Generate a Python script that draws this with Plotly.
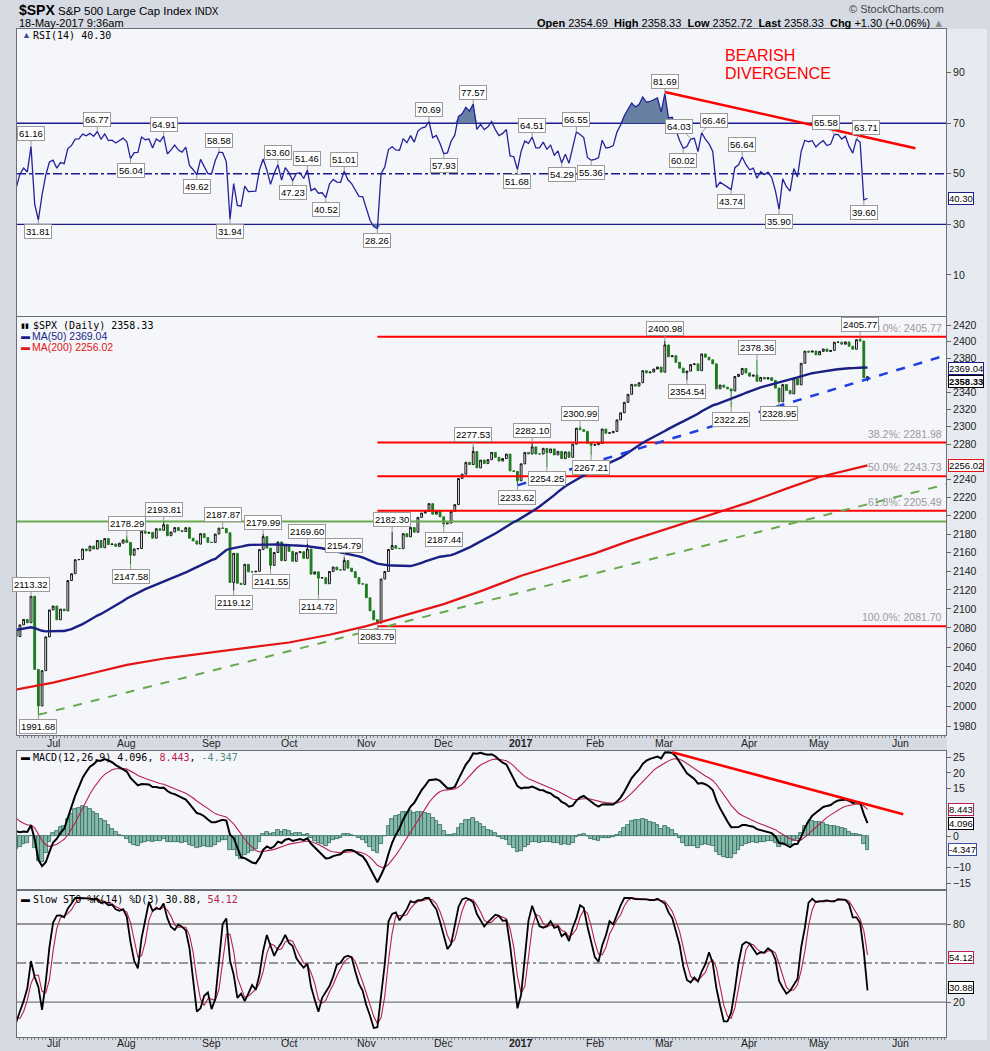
import numpy as np
import pandas as pd
import plotly.graph_objects as go

W, H = 990, 1051

# ---------------- data ----------------
HOLIDAYS = ["2016-05-30", "2016-07-04", "2016-09-05", "2016-11-24", "2016-12-26",
            "2017-01-02", "2017-01-16", "2017-02-20", "2017-04-14"]

# daily closes (Apr-Jun 2016 are warm-up history for the indicators)
close_2016_04 = [2072.78, 2066.13, 2045.17, 2066.66, 2041.91, 2047.60, 2041.99, 2061.72, 2082.42, 2082.78,
                 2080.73, 2094.34, 2100.80, 2102.40, 2091.48, 2091.58, 2087.79, 2091.70, 2095.15, 2075.81, 2065.30]
close_2016_05 = [2081.43, 2063.37, 2051.12, 2050.63, 2057.14, 2058.69, 2084.39, 2064.46, 2064.11, 2046.61,
                 2066.66, 2047.21, 2047.63, 2040.04, 2052.32, 2048.04, 2076.06, 2090.54, 2090.10, 2099.06, 2096.95]
close_2016_06 = [2099.33, 2105.26, 2099.13, 2109.41, 2112.13, 2119.12, 2115.48, 2096.07, 2079.06, 2075.32,
                 2071.50, 2077.99, 2071.22, 2083.25, 2088.90, 2085.45, 2113.32, 2037.41, 2000.54, 2036.09,
                 2070.77, 2098.86]
close_2016_07 = [2102.95, 2088.55, 2099.73, 2097.90, 2129.90, 2137.16, 2152.14, 2152.43, 2163.75, 2161.74,
                 2166.89, 2163.78, 2173.02, 2165.17, 2175.03, 2168.48, 2169.18, 2166.58, 2170.06, 2173.60]
close_2016_08 = [2170.84, 2157.03, 2163.79, 2164.25, 2182.87, 2180.89, 2181.74, 2175.49, 2185.79, 2184.05,
                 2190.15, 2178.15, 2182.22, 2187.02, 2183.87, 2182.64, 2186.90, 2175.44, 2172.47, 2169.04,
                 2180.38, 2176.12, 2170.95]
close_2016_09 = [2170.86, 2179.98, 2186.48, 2186.16, 2181.30, 2127.81, 2159.04, 2127.02, 2125.77, 2147.26,
                 2139.16, 2139.12, 2139.76, 2163.12, 2177.18, 2164.69, 2146.10, 2159.93, 2171.37, 2151.13, 2168.27]
close_2016_10 = [2161.20, 2150.49, 2159.73, 2160.77, 2153.74, 2163.66, 2136.73, 2139.18, 2132.55, 2132.98,
                 2126.50, 2139.60, 2144.29, 2141.34, 2141.16, 2151.33, 2143.16, 2139.43, 2133.04, 2126.41, 2126.15]
close_2016_11 = [2111.72, 2097.94, 2088.66, 2085.18, 2131.52, 2139.56, 2163.26, 2167.48, 2164.45, 2164.20,
                 2180.39, 2176.94, 2187.12, 2181.90, 2198.18, 2202.94, 2204.72, 2213.35, 2201.72, 2204.66, 2198.81]
close_2016_12 = [2191.08, 2191.95, 2204.71, 2212.23, 2241.35, 2246.19, 2259.53, 2256.96, 2271.72, 2253.28,
                 2262.03, 2258.07, 2262.53, 2270.76, 2265.18, 2260.96, 2263.79, 2268.88, 2249.92, 2249.26, 2238.83]
close_2017_01 = [2257.83, 2270.75, 2269.00, 2276.98, 2268.90, 2268.90, 2275.32, 2270.44, 2274.64, 2267.89,
                 2271.89, 2263.69, 2271.31, 2265.20, 2280.07, 2298.37, 2296.68, 2294.69, 2280.90, 2278.87]
close_2017_02 = [2279.55, 2280.85, 2297.42, 2292.56, 2293.08, 2294.67, 2307.87, 2316.10, 2328.25, 2337.58,
                 2349.25, 2347.22, 2351.16, 2365.38, 2362.82, 2363.81, 2367.34, 2369.75, 2363.64]
close_2017_03 = [2395.96, 2381.92, 2383.12, 2375.31, 2368.39, 2362.98, 2364.87, 2372.60, 2373.47, 2365.45,
                 2385.26, 2381.38, 2378.25, 2373.47, 2344.02, 2348.45, 2345.96, 2343.98, 2341.59, 2358.57,
                 2361.13, 2368.06, 2362.72]
close_2017_04 = [2358.84, 2360.16, 2352.95, 2357.49, 2355.54, 2357.16, 2353.78, 2344.93, 2328.95, 2349.01,
                 2342.19, 2338.17, 2355.84, 2348.69, 2374.15, 2388.61, 2387.45, 2388.77, 2384.20]
close_2017_05 = [2388.33, 2391.17, 2388.13, 2389.52, 2399.29, 2399.38, 2396.92, 2399.63, 2394.44, 2390.90,
                 2402.32, 2400.67, 2357.03, 2358.33]

last_bar = {"open": 2354.69, "high": 2358.33, "low": 2352.72}

# 200-day MA (trading-day index, value)
ma200_idx = [-1, 9, 19, 29, 40, 52, 62, 73, 84, 94, 105, 115, 126, 136, 146, 156, 165, 175, 186, 198, 208, 217, 230]
ma200_val = [2017, 2024, 2033, 2042, 2049, 2055, 2060, 2065, 2073, 2082, 2094, 2105, 2120, 2135, 2147, 2159,
             2172, 2185, 2200, 2215, 2230, 2243, 2256.02]

# price swing labels
price_up_idx = [3, 29, 39, 55, 66, 78, 88, 101, 123, 139, 152, 175, 200, 228]
price_up_val = [2113.32, 2178.29, 2193.81, 2187.87, 2179.99, 2169.60, 2154.79, 2182.30, 2277.53, 2282.10,
                2300.99, 2400.98, 2378.36, 2405.77]
price_dn_idx = [5, 30, 58, 68, 81, 97, 115, 135, 143, 155, 181, 193, 206]
price_dn_val = [1991.68, 2147.58, 2119.12, 2141.55, 2114.72, 2083.79, 2187.44, 2233.62, 2254.25, 2267.21,
                2354.54, 2322.25, 2328.95]

# RSI swing labels
rsi_up_idx = [3, 21, 39, 54, 70, 78, 88, 111, 123, 139, 151, 175, 182, 185, 196, 221, 227]
rsi_up_val = [61.16, 66.77, 64.91, 58.58, 53.60, 51.46, 51.01, 70.69, 77.57, 64.51, 66.55, 81.69, 64.03,
              66.46, 56.64, 65.58, 63.71]
rsi_dn_idx = [5, 30, 48, 57, 74, 83, 97, 115, 135, 147, 155, 180, 193, 206, 229]
rsi_dn_val = [31.81, 56.04, 49.62, 31.94, 47.23, 40.52, 28.26, 57.93, 51.68, 54.29, 55.36, 60.02, 43.74,
              35.90, 39.60]

# Fibonacci retracement levels
fib_names = ["0.0%", "38.2%", "50.0%", "61.8%", "100.0%"]
fib_levels = [2405.77, 2281.98, 2243.73, 2205.49, 2081.70]
fib_start_idx = 97
support_level = 2193.81

# drawn trendlines (index, value)
green_trend_idx = [5, 251.5]
green_trend_val = [1991.68, 2235.0]
blue_trend_idx = [135, 251.5]
blue_trend_val = [2233.62, 2384.0]
rsi_trend_idx = [175, 243]
rsi_trend_val = [82.4, 60.1]
macd_trend_idx = [177, 239.7]
macd_trend_val = [26.5, 6.9]

month_tick_idx = [9, 29, 52, 73, 94, 115, 136, 156, 175, 198, 217, 239]
month_tick_text = ["Jul", "Aug", "Sep", "Oct", "Nov", "Dec", "<b>2017</b>", "Feb", "Mar", "Apr", "May", "Jun"]

# axis tick labels (those hidden behind the value tags are left out)
rsi_ticks = [10, 30, 50, 70, 90]
price_ticks = [v for v in range(1980, 2421, 20) if v not in (2360, 2260)]
macd_ticks = [-15, -10, 0, 15, 20, 25]
sto_ticks = [20, 80]

# legend / header values
rsi_last = 40.30
ma50_last, ma200_last, price_last = 2369.04, 2256.02, 2358.33
macd_last, signal_last, hist_last = 4.096, 8.443, -4.347
stok_last, stod_last = 30.88, 54.12

# ---------------- derived series ----------------
closes = np.array(close_2016_04 + close_2016_05 + close_2016_06 + close_2016_07 + close_2016_08 +
                  close_2016_09 + close_2016_10 + close_2016_11 + close_2016_12 + close_2017_01 +
                  close_2017_02 + close_2017_03 + close_2017_04 + close_2017_05)
hol = set(pd.to_datetime(HOLIDAYS))
dates = [d for d in pd.bdate_range("2016-04-01", "2017-05-18") if d not in hol]
n = len(closes)
assert len(dates) == n, (len(dates), n)
off = dates.index(pd.Timestamp("2016-06-20"))
xi = np.arange(n) - off

opens = np.r_[closes[0], closes[:-1]].astype(float)
opens[-1] = last_bar["open"]
highs = np.maximum(opens, closes)
lows = np.minimum(opens, closes)
highs[-1] = last_bar["high"]
lows[-1] = last_bar["low"]
for i, v in zip(price_up_idx, price_up_val):
    highs[i + off] = max(highs[i + off], v)
for i, v in zip(price_dn_idx, price_dn_val):
    lows[i + off] = min(lows[i + off], v)

cs = pd.Series(closes)
ma50 = cs.rolling(50).mean().values


def wilder_rsi(c, p=14):
    d = np.diff(c)
    g = np.where(d > 0, d, 0.0)
    l = np.where(d < 0, -d, 0.0)
    out = np.full(len(c), np.nan)
    ag, al = g[:p].mean(), l[:p].mean()
    out[p] = 100 - 100 / (1 + ag / al)
    for k in range(p, len(d)):
        ag = (ag * (p - 1) + g[k]) / p
        al = (al * (p - 1) + l[k]) / p
        out[k + 1] = 100 - 100 / (1 + ag / al)
    return out


def ema(x, p):
    x = np.asarray(x, float)
    out = np.full(len(x), np.nan)
    start = int(np.argmax(~np.isnan(x)))
    a = 2.0 / (p + 1)
    out[start + p - 1] = np.mean(x[start:start + p])
    for k in range(start + p, len(x)):
        out[k] = a * x[k] + (1 - a) * out[k - 1]
    return out


rsi = wilder_rsi(closes)
macd = ema(closes, 12) - ema(closes, 26)
signal = ema(macd, 9)
hist = macd - signal
ll = pd.Series(lows).rolling(14).min()
hh = pd.Series(highs).rolling(14).max()
fastk = 100 * (cs - ll) / (hh - ll)
slowk = fastk.rolling(3).mean().values
slowd = pd.Series(slowk).rolling(3).mean().values

vis = xi >= -2
xv = xi[vis]

# ---------------- geometry ----------------
def px(x):
    return x / W


def py(y):
    return 1 - y / H


XD = [px(17), px(946)]
XR = [-0.8, 251.3]
PLO, PHI = 1971.7, 2429.7

FONT = "Liberation Sans"
MONO = "DejaVu Sans Mono"
NAVY = "#1c1c8c"
CRIM = "#b8204e"
GREEN_C = "#1f7a1f"

fig = go.Figure()

# ---- RSI panel ----
fig.add_trace(go.Scatter(x=xv, y=np.full(len(xv), 70.0), mode="lines", line=dict(width=0),
                         xaxis="x", yaxis="y", hoverinfo="skip", showlegend=False))
fig.add_trace(go.Scatter(x=xv, y=np.maximum(rsi[vis], 70), mode="lines", line=dict(width=0),
                         fill="tonexty", fillcolor="rgba(96,122,158,0.95)",
                         xaxis="x", yaxis="y", hoverinfo="skip", showlegend=False))
fig.add_trace(go.Scatter(x=xv, y=np.full(len(xv), 30.0), mode="lines", line=dict(width=0),
                         xaxis="x", yaxis="y", hoverinfo="skip", showlegend=False))
fig.add_trace(go.Scatter(x=xv, y=np.minimum(rsi[vis], 30), mode="lines", line=dict(width=0),
                         fill="tonexty", fillcolor="rgba(96,122,158,0.95)",
                         xaxis="x", yaxis="y", hoverinfo="skip", showlegend=False))
fig.add_trace(go.Scatter(x=xv, y=rsi[vis], mode="lines", line=dict(color="#23239a", width=1.3),
                         xaxis="x", yaxis="y", showlegend=False))
fig.add_trace(go.Scatter(x=rsi_trend_idx, y=rsi_trend_val, mode="lines", line=dict(color="#ff0000", width=2.5),
                         xaxis="x", yaxis="y", showlegend=False))

# ---- price panel ----
for name, lvl in zip(fib_names, fib_levels):
    fig.add_trace(go.Scatter(x=[fib_start_idx, XR[1] + 1], y=[lvl, lvl], mode="lines",
                             line=dict(color="#ff0000", width=2), xaxis="x2", yaxis="y2", showlegend=False))
fig.add_trace(go.Scatter(x=[XR[0] - 1, XR[1] + 1], y=[support_level, support_level], mode="lines",
                         line=dict(color="#6aa84f", width=2), xaxis="x2", yaxis="y2", showlegend=False))
fig.add_trace(go.Scatter(x=green_trend_idx, y=green_trend_val, mode="lines",
                         line=dict(color="#6aa84f", width=2, dash="dash"), xaxis="x2", yaxis="y2", showlegend=False))
fig.add_trace(go.Scatter(x=ma200_idx, y=ma200_val, mode="lines", line=dict(color="#e31414", width=2.2),
                         xaxis="x2", yaxis="y2", showlegend=False))
fig.add_trace(go.Scatter(x=xv, y=ma50[vis], mode="lines", line=dict(color="#1a1f84", width=2.4),
                         xaxis="x2", yaxis="y2", showlegend=False))
fig.add_trace(go.Scatter(x=blue_trend_idx, y=blue_trend_val, mode="lines",
                         line=dict(color="#1f3fe0", width=2.5, dash="dash"), xaxis="x2", yaxis="y2", showlegend=False))
fig.add_trace(go.Candlestick(x=xv, open=opens[vis], high=highs[vis], low=lows[vis], close=closes[vis],
                             increasing=dict(line=dict(color="#111111", width=1), fillcolor="white"),
                             decreasing=dict(line=dict(color=GREEN_C, width=1), fillcolor=GREEN_C),
                             whiskerwidth=0, xaxis="x2", yaxis="y2", showlegend=False))

# ---- MACD panel ----
fig.add_trace(go.Bar(x=xv, y=hist[vis], width=1.0, marker=dict(color="#86b9aa", line=dict(color="#2f6b5c", width=0.8)),
                     xaxis="x3", yaxis="y3", showlegend=False))
fig.add_trace(go.Scatter(x=xv, y=signal[vis], mode="lines", line=dict(color=CRIM, width=1.1),
                         xaxis="x3", yaxis="y3", showlegend=False))
fig.add_trace(go.Scatter(x=xv, y=macd[vis], mode="lines", line=dict(color="black", width=2),
                         xaxis="x3", yaxis="y3", showlegend=False))
fig.add_trace(go.Scatter(x=macd_trend_idx, y=macd_trend_val, mode="lines", line=dict(color="#ff0000", width=2.5),
                         xaxis="x3", yaxis="y3", showlegend=False))

# ---- STO panel ----
fig.add_trace(go.Scatter(x=xv, y=slowd[vis], mode="lines", line=dict(color=CRIM, width=1.1),
                         xaxis="x4", yaxis="y4", showlegend=False))
fig.add_trace(go.Scatter(x=xv, y=slowk[vis], mode="lines", line=dict(color="black", width=1.8),
                         xaxis="x4", yaxis="y4", showlegend=False))

# ---------------- axes ----------------
common_x = dict(domain=XD, range=XR, showgrid=False, zeroline=False, showline=True, mirror=True,
                linecolor="#6b6f7a", linewidth=1, fixedrange=True)
tickfont = dict(family=FONT, size=10.5, color="#222")
xlab = dict(tickmode="array", tickvals=month_tick_idx, showticklabels=False, ticks="outside", ticklen=3,
            tickcolor="#666",
            minor=dict(ticks="outside", ticklen=2, dtick=1, tick0=0, tickcolor="#888"))
common_y = dict(side="right", showgrid=False, zeroline=False, showline=True, mirror=True, linecolor="#6b6f7a",
                linewidth=1, ticks="outside", ticklen=4, tickcolor="#666", tickfont=tickfont, fixedrange=True)

fig.update_layout(
    width=W, height=H, margin=dict(l=0, r=0, t=0, b=0),
    paper_bgcolor="#d6dae3", plot_bgcolor="#f5f6fa", showlegend=False, bargap=0,
    xaxis=dict(**common_x, anchor="y", showticklabels=False, ticks=""),
    xaxis2=dict(**common_x, anchor="y2", rangeslider=dict(visible=False), **xlab),
    xaxis3=dict(**common_x, anchor="y3", showticklabels=False, ticks=""),
    xaxis4=dict(**common_x, anchor="y4", **xlab),
    yaxis=dict(**common_y, anchor="x", domain=[py(316), py(29)], range=[-6.3, 107.3],
               tickvals=rsi_ticks),
    yaxis2=dict(**common_y, anchor="x2", domain=[py(735), py(317)], type="log",
                range=[np.log10(PLO), np.log10(PHI)],
                tickvals=price_ticks, ticktext=[str(v) for v in price_ticks]),
    yaxis3=dict(**common_y, anchor="x3", domain=[py(889), py(751)], range=[-16.7, 26.9],
                tickvals=macd_ticks),
    yaxis4=dict(**common_y, anchor="x4", domain=[py(1037), py(891)], range=[-6.9, 105.4],
                tickvals=sto_ticks),
)

shapes = []
# right axis column
shapes.append(dict(type="rect", xref="paper", yref="paper", x0=px(947), x1=px(987), y0=py(1040), y1=py(29),
                   fillcolor="#e7eaf0", line=dict(width=0), layer="below"))
for yref, lvl, col, dash in [("y", 70, NAVY, "solid"), ("y", 30, NAVY, "solid"), ("y", 50, NAVY, "dashdot"),
                             ("y4", 80, "#777", "solid"), ("y4", 20, "#777", "solid"), ("y4", 50, "#777", "dashdot")]:
    shapes.append(dict(type="line", xref="paper", x0=XD[0], x1=XD[1], yref=yref, y0=lvl, y1=lvl,
                       line=dict(color=col, width=1.3, dash=dash), layer="below"))
fig.update_layout(shapes=shapes)

# ---------------- annotations ----------------
ann = []


def ptxt(x, y, text, size=11, color="black", family=FONT, xanchor="left", yanchor="middle"):
    ann.append(dict(xref="paper", yref="paper", x=px(x), y=py(y), text=text, showarrow=False,
                    xanchor=xanchor, yanchor=yanchor, font=dict(family=family, size=size, color=color)))


# month labels under the price panel and the STO panel
for xref, ypx in [("x2", 743), ("x4", 1043)]:
    for i, t in zip(month_tick_idx, month_tick_text):
        ann.append(dict(xref=xref, yref="paper", x=i, y=py(ypx), text=t, showarrow=False,
                        xanchor="center", yanchor="middle", font=dict(family=FONT, size=10.5, color="#222")))

# header
ptxt(17, 10, "<b><span style='font-size:14px'>$SPX</span></b> S&P 500 Large Cap Index "
             "<span style='font-size:10px'>INDX</span>", size=11.5)
ptxt(17, 23, "18-May-2017 9:36am", size=11)
ptxt(946, 9, "© StockCharts.com", size=11, color="#444", xanchor="right")
ptxt(946, 23, "<b>Open</b> 2354.69  <b>High</b> 2358.33  <b>Low</b> 2352.72  <b>Last</b> 2358.33  "
              "<b>Chg</b> +1.30 (+0.06%) <span style='color:#888'>▲</span>", size=11, xanchor="right")

# panel legends
ptxt(20, 35, "<span style='color:#3a4f9a'>▲</span>", size=9)
ptxt(31, 35, f"RSI(14) {rsi_last:.2f}", size=10, family=MONO)
ptxt(19, 325, "▮▮", size=7)
ptxt(31, 325, f"$SPX (Daily) {price_last:.2f}", size=10, family=MONO)
ptxt(19, 336, "▬", size=9, color="#1a1f84")
ptxt(30, 336, f"MA(50) {ma50_last:.2f}", size=10.5, color="#1a1f84")
ptxt(19, 347, "▬", size=9, color="#e31414")
ptxt(30, 347, f"MA(200) {ma200_last:.2f}", size=10.5, color="#e31414")
ptxt(19, 757, "▬", size=9)
ptxt(31, 757, f"MACD(12,26,9) {macd_last:.3f}, <span style='color:{CRIM}'>{signal_last:.3f}</span>, "
              f"<span style='color:#4f8f80'>{hist_last:.3f}</span>", size=10, family=MONO)
ptxt(19, 899, "▬", size=9)
ptxt(31, 899, f"Slow STO %K(14) %D(3) {stok_last:.2f}, <span style='color:{CRIM}'>{stod_last:.2f}</span>",
     size=10, family=MONO)

# bearish divergence note
ptxt(723, 55, "BEARISH", size=16, color="#ff0000")
ptxt(723, 73, "DIVERGENCE", size=16, color="#ff0000")

# fib labels
for name, lvl in zip(fib_names, fib_levels):
    ann.append(dict(xref="x2", yref="y2", x=XR[1] - 0.5, y=np.log10(lvl), text=f"{name}: {lvl:.2f}",
                    showarrow=False, xanchor="right", yanchor="bottom", yshift=1,
                    font=dict(family=FONT, size=10.5, color="#9a9a9a")))


def vlabel(xref, yref, x, y, text, above, ax=0):
    ann.append(dict(xref=xref, yref=yref, x=x, y=y, text=text, showarrow=True, arrowhead=0, arrowwidth=1,
                    arrowcolor="#9a9a9a", ax=ax, ay=-12 if above else 12, standoff=0,
                    font=dict(family=FONT, size=9.5, color="black"), bgcolor="white",
                    bordercolor="#9a9a9a", borderwidth=1, borderpad=1))


# small sideways nudges for labels that would sit on top of each other
rsi_up_nudge = {182: -12, 185: 12, 221: -8, 227: 10}
for i, v in zip(rsi_up_idx, rsi_up_val):
    vlabel("x", "y", i, v, f"{v:.2f}", True, rsi_up_nudge.get(i, 0))
for i, v in zip(rsi_dn_idx, rsi_dn_val):
    vlabel("x", "y", i, v, f"{v:.2f}", False)
for i, v in zip(price_up_idx, price_up_val):
    vlabel("x2", "y2", i, np.log10(v), f"{v:.2f}", True)
for i, v in zip(price_dn_idx, price_dn_val):
    vlabel("x2", "y2", i, np.log10(v), f"{v:.2f}", False)


def tag(yref, y, text, color, bold=False, yshift=0):
    t = f"<b>{text}</b>" if bold else text
    ann.append(dict(xref="paper", yref=yref, x=px(948), y=y, text=t, showarrow=False, xanchor="left",
                    yanchor="middle", yshift=yshift, font=dict(family=FONT, size=9.5, color="black"),
                    bgcolor="white", bordercolor=color, borderwidth=1, borderpad=0))


tag("y", rsi_last, f"{rsi_last:.2f}", NAVY)
tag("y2", np.log10(ma50_last), f"{ma50_last:.2f}", NAVY, yshift=-1)
tag("y2", np.log10(ma200_last), f"{ma200_last:.2f}", "#e31414")
tag("y2", np.log10(price_last), f"{price_last:.2f}", "black", bold=True, yshift=-5)
tag("y3", signal_last, f"{signal_last:.3f}", CRIM)
tag("y3", macd_last, f"{macd_last:.3f}", "black")
tag("y3", hist_last, f"{hist_last:.3f}", "#3a4fa0")
tag("y4", stod_last, f"{stod_last:.2f}", CRIM)
tag("y4", stok_last, f"{stok_last:.2f}", "black")

fig.update_layout(annotations=ann)
fig.write_html("out.html", config={"displayModeBar": False},
               post_script="document.body.style.margin='0px';document.body.style.overflow='hidden';")
